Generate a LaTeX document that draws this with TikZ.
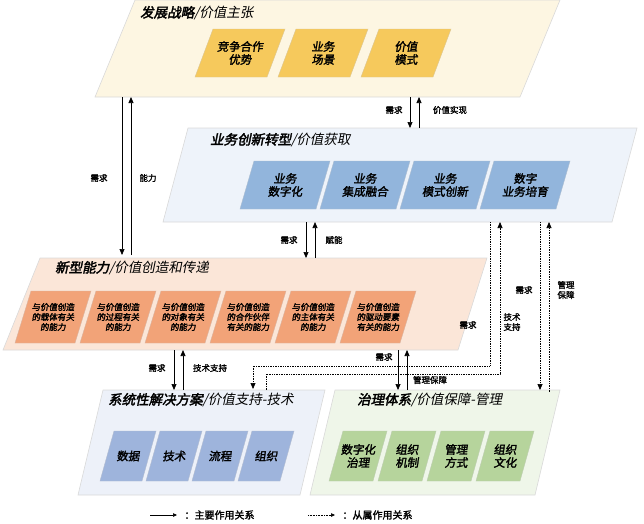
\documentclass[tikz,border=0pt]{standalone}
\usepackage{fontspec}
\setmainfont{Noto Sans CJK SC}
\newfontfamily\cjkt{Noto Sans CJK SC}[FakeSlant=0.2,FakeBold=2.5]
\newfontfamily\cjkl{Noto Sans CJK SC}[FakeSlant=0.2]
\newfontfamily\cjkb{Noto Sans CJK SC}[FakeSlant=0.15,FakeBold=2]
\newfontfamily\cjkn{Noto Sans CJK SC}[FakeBold=1.8]
\usetikzlibrary{arrows.meta}
\definecolor{lay1}{HTML}{FDF6E2}\definecolor{box1}{HTML}{F6C95C}
\definecolor{lay2}{HTML}{EEF3FA}\definecolor{box2}{HTML}{92B5DC}
\definecolor{lay3}{HTML}{FBE6D8}\definecolor{box3}{HTML}{F2A378}
\definecolor{lay4}{HTML}{EDF1F9}\definecolor{box4}{HTML}{9EB4DC}
\definecolor{lay5}{HTML}{EFF6E9}\definecolor{box5}{HTML}{B6D49C}
\newcommand\pbox[8]{% name cx cy w h slant fill text
  \fill[#7,draw=#7!80!black!60] ({#2-#4/2-#6/2},{#3+#5/2}) -- ({#2+#4/2-#6/2},{#3+#5/2}) -- ({#2+#4/2+#6/2},{#3-#5/2}) -- ({#2-#4/2+#6/2},{#3-#5/2}) -- cycle;
  \node[boxtxt] (#1) at (#2,#3) {#8};}
\begin{document}
\begin{tikzpicture}[x=1pt,y=-1pt,
  layer/.style={draw=black!15,line width=0.6pt},
  boxtxt/.style={align=center,font=\cjkb\fontsize{11.5}{13}\selectfont,inner sep=0pt},
  smalltxt/.style={align=center,font=\cjkb\fontsize{8.5}{10}\selectfont,inner sep=0pt},
  lbl/.style={font=\cjkn\fontsize{8.5}{10}\selectfont,inner sep=1pt,align=center},
  title/.style={anchor=west,inner sep=0pt},
  main/.style={-{Triangle[length=6pt,width=5pt]},line width=0.7pt},
  sub/.style={-{Triangle[length=6pt,width=5pt]},line width=0.7pt,densely dotted}]
\useasboundingbox (0,0) rectangle (644,523);
% layers
\fill[lay1,layer] (95,97) -- (520,97) -- (560,0) -- (135,0) -- cycle;
\fill[lay2,layer] (163,222) -- (612,222) -- (637,128) -- (188,128) -- cycle;
\fill[lay3,layer] (3,350) -- (458,350) -- (487,258) -- (40,258) -- cycle;
\fill[lay4,layer] (78,495) -- (300,495) -- (325,390) -- (103,390) -- cycle;
\fill[lay5,layer] (310,495) -- (535,495) -- (560,390) -- (335,390) -- cycle;
% titles
\node[title] (t1) at (140,13) {{\cjkt\fontsize{13.5}{14}\selectfont 发展战略}{\cjkl\fontsize{13.5}{14}\selectfont /价值主张}};
\node[title] (t2) at (210,140) {{\cjkt\fontsize{13.5}{14}\selectfont 业务创新转型}{\cjkl\fontsize{13.5}{14}\selectfont /价值获取}};
\node[title] (t3) at (55,268) {{\cjkt\fontsize{13.5}{14}\selectfont 新型能力}{\cjkl\fontsize{13.5}{14}\selectfont /价值创造和传递}};
\node[title] (t4) at (108,400) {{\cjkt\fontsize{13.5}{14}\selectfont 系统性解决方案}{\cjkl\fontsize{13.5}{14}\selectfont /价值支持-技术}};
\node[title] (t5) at (357,400) {{\cjkt\fontsize{13.5}{14}\selectfont 治理体系}{\cjkl\fontsize{13.5}{14}\selectfont /价值保障-管理}};
% boxes
\pbox{a1}{240}{53}{72}{48}{18}{box1}{竞争合作\\优势}
\pbox{a2}{323}{53}{72}{48}{18}{box1}{业务\\场景}
\pbox{a3}{406}{53}{72}{48}{18}{box1}{价值\\模式}
\pbox{b1}{285}{185}{76}{48}{14}{box2}{业务\\数字化}
\pbox{b2}{365}{185}{76}{48}{14}{box2}{业务\\集成融合}
\pbox{b3}{445}{185}{76}{48}{14}{box2}{业务\\模式创新}
\pbox{b4}{525}{185}{76}{48}{14}{box2}{数字\\业务培育}
\pbox{c1}{53}{317}{60}{52}{16}{box3}{\tikz[baseline]\node[smalltxt]{与价值创造\\的载体有关\\的能力};}
\pbox{c2}{118}{317}{60}{52}{16}{box3}{\tikz[baseline]\node[smalltxt]{与价值创造\\的过程有关\\的能力};}
\pbox{c3}{183}{317}{60}{52}{16}{box3}{\tikz[baseline]\node[smalltxt]{与价值创造\\的对象有关\\的能力};}
\pbox{c4}{248}{317}{60}{52}{16}{box3}{\tikz[baseline]\node[smalltxt]{与价值创造\\的合作伙伴\\有关的能力};}
\pbox{c5}{313}{317}{60}{52}{16}{box3}{\tikz[baseline]\node[smalltxt]{与价值创造\\的主体有关\\的能力};}
\pbox{c6}{378}{317}{60}{52}{16}{box3}{\tikz[baseline]\node[smalltxt]{与价值创造\\的驱动要素\\有关的能力};}
\pbox{d1}{128}{456}{42}{50}{14}{box4}{数据}
\pbox{d2}{174}{456}{42}{50}{14}{box4}{技术}
\pbox{d3}{220}{456}{42}{50}{14}{box4}{流程}
\pbox{d4}{266}{456}{42}{50}{14}{box4}{组织}
\pbox{e1}{358}{456}{44}{50}{14}{box5}{数字化\\治理}
\pbox{e2}{407}{456}{44}{50}{14}{box5}{组织\\机制}
\pbox{e3}{456}{456}{44}{50}{14}{box5}{管理\\方式}
\pbox{e4}{505}{456}{44}{50}{14}{box5}{组织\\文化}
% connector end points
\coordinate (p1a) at (410,97);  \coordinate (p1b) at (410,128);
\coordinate (q1a) at (419,128); \coordinate (q1b) at (419,97);
\coordinate (p2a) at (122,97);  \coordinate (p2b) at (122,255);
\coordinate (q2a) at (131,255); \coordinate (q2b) at (131,97);
\coordinate (p3a) at (306,222); \coordinate (p3b) at (306,258);
\coordinate (q3a) at (315,258); \coordinate (q3b) at (315,222);
\coordinate (p4a) at (174,350); \coordinate (p4b) at (174,390);
\coordinate (q4a) at (183,390); \coordinate (q4b) at (183,350);
\coordinate (p5a) at (398,350); \coordinate (p5b) at (398,390);
\coordinate (q5a) at (407,390); \coordinate (q5b) at (407,350);
\coordinate (r1) at (490,222); \coordinate (r2) at (253,389);
\coordinate (s1) at (266,390); \coordinate (s2) at (500,222);
\coordinate (u1) at (540,222); \coordinate (u2) at (540,390);
\coordinate (v1) at (549,392); \coordinate (v2) at (549,222);
% main arrows
\draw[main] (p1a) -- (p1b); \draw[main] (q1a) -- (q1b);
\draw[main] (p2a) -- (p2b); \draw[main] (q2a) -- (q2b);
\draw[main] (p3a) -- (p3b); \draw[main] (q3a) -- (q3b);
\draw[main] (p4a) -- (p4b); \draw[main] (q4a) -- (q4b);
\draw[main] (p5a) -- (p5b); \draw[main] (q5a) -- (q5b);
% dotted arrows
\draw[sub] (r1) |- (253,366) -- (r2);
\draw[sub] (s1) |- (500,374) -- (s2);
\draw[sub] (u1) -- (u2);
\draw[sub] (v1) -- (v2);
% labels
\node[lbl] (l1) at (394,110) {需求};
\node[lbl] (l2) at (450,110) {价值实现};
\node[lbl] (l3) at (99,178) {需求};
\node[lbl] (l4) at (148,178) {能力};
\node[lbl] (l5) at (289,240) {需求};
\node[lbl] (l6) at (334,240) {赋能};
\node[lbl] (l7) at (157,368) {需求};
\node[lbl] (l8) at (210,368) {技术支持};
\node[lbl] (l9) at (384,357) {需求};
\node[lbl] (l10) at (430,380) {管理保障};
\node[lbl] (l11) at (468,325) {需求};
\node[lbl] (l12) at (512,322) {技术\\支持};
\node[lbl] (l13) at (524,290) {需求};
\node[lbl] (l14) at (566,290) {管理\\保障};
% legend
\coordinate (g1) at (150,515); \coordinate (g2) at (177,515);
\coordinate (g3) at (308,515); \coordinate (g4) at (335,515);
\draw[-{Triangle[length=4pt,width=3.5pt]},line width=0.6pt] (g1) -- (g2);
\node[anchor=west,font=\cjkn\fontsize{10}{11}\selectfont] (lg1) at (181,515) {：主要作用关系};
\draw[-{Triangle[length=4pt,width=3.5pt]},line width=0.6pt,densely dotted] (g3) -- (g4);
\node[anchor=west,font=\cjkn\fontsize{10}{11}\selectfont] (lg2) at (339,515) {：从属作用关系};
\end{tikzpicture}
\end{document}
